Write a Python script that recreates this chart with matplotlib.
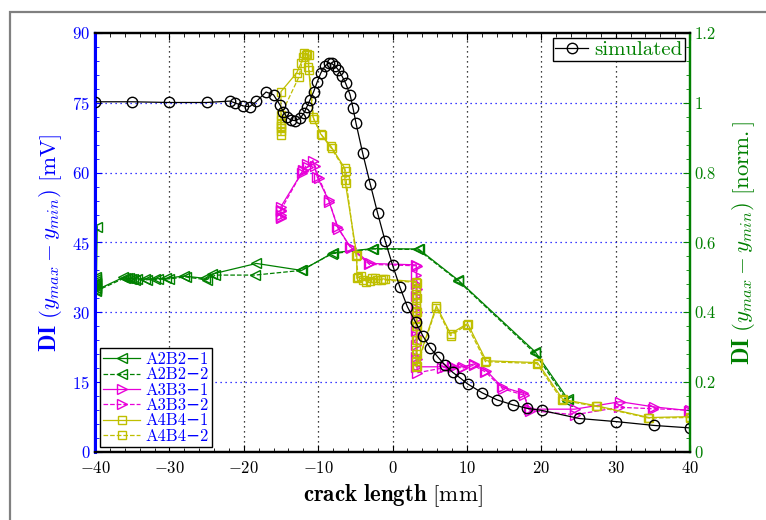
"""
    DI over crack length, measured (A2B2, A3B3, A4B4) vs. simulated
"""

import numpy as np
import matplotlib
matplotlib.use("Agg")
import matplotlib.pyplot as plt
from matplotlib.patches import Rectangle
from matplotlib.ticker import MultipleLocator

plt.rcParams['font.family'] = ['cmr10', 'DejaVu Serif']
plt.rcParams['mathtext.fontset'] = 'cm'
plt.rcParams['axes.formatter.use_mathtext'] = True

# simulated curve, right axis [norm.]
sim_x = [-40, -35, -30, -25, -21.85, -21.2, -20.06, -19.2, -18.3, -17.0, -16.0, -15.1,
         -14.7, -14.2, -13.7, -13.1, -12.4, -11.9, -11.5, -11.1, -10.6, -10.1, -9.65,
         -9.1, -8.6, -8.2, -7.7, -7.3, -6.8, -6.3, -5.7, -5.3, -4.9, -4.0, -3.0, -2.0,
         -1.0, 0, 1, 2, 3.1, 4.1, 5.05, 6.1, 7.1, 8.1, 9.1, 10.1, 12.1, 14.1, 16.2, 18.1,
         20.1, 25.1, 30.1, 35.2, 40]
sim_y = [1.003, 1.003, 1.001, 1.001, 1.005, 1.000, 0.991, 0.989, 1.004, 1.031, 1.023, 0.993,
         0.975, 0.959, 0.951, 0.949, 0.956, 0.971, 0.989, 1.008, 1.032, 1.061, 1.085,
         1.105, 1.113, 1.113, 1.105, 1.095, 1.077, 1.056, 1.023, 0.984, 0.941, 0.855, 0.768, 0.684,
         0.605, 0.536, 0.472, 0.416, 0.372, 0.332, 0.299, 0.272, 0.248, 0.228, 0.212, 0.195, 0.169, 0.149, 0.135, 0.125,
         0.119, 0.096, 0.087, 0.076, 0.069]

# measured, left axis [mV]
a2b2_1_x = [-39.7, -39.8, -39.8, -39.8, -39.8, -39.8, -39.8, -39.8, -39.8, -36.2, -35.7, -35.4,
            -34.9, -34.4, -33.3, -31.9, -30.4, -28.1, -25.2, -24.3, -18.3, -12.2, -8.0, -2.6,
            3.5, 8.85, 19.2, 23.6]
a2b2_1_y = [48.4, 37.6, 37.2, 36.8, 36.4, 36.0, 35.6, 35.2, 34.8, 37.5, 37.3, 37.3,
            37.2, 37.2, 37.2, 37.2, 37.3, 37.8, 37.3, 38.2, 40.5, 39.0, 42.8, 43.7,
            43.6, 36.9, 21.5, 11.3]
a2b2_2_x = [-39.8, -39.8, -39.8, -36.0, -35.2, -34.6, -33.0, -31.5, -30.0, -27.8, -25.0, -23.8,
            -18.5, -12.3, -8.1, -2.7, 3.4, 8.8, 19.1, 23.5]
a2b2_2_y = [36.2, 35.2, 34.6, 37.4, 37.2, 37.0, 37.0, 37.1, 37.2, 37.6, 37.0, 38.0,
            38.0, 39.0, 42.6, 43.6, 43.5, 36.8, 21.3, 11.0]

a3b3_1_x = [-15, -15, -15, -15, -12.2, -12.0, -11.3, -10.7, -10.1, -8.6, -7.4, -5.7, -3.0,
            3.2, 3.2, 3.2, 3.2, 3.2, 3.2, 3.2, 3.2, 3.2, 3.2, 7.0, 8.1, 9.5, 10.9, 12.6, 14.7,
            17.6, 18.3, 24.5, 30.6, 35.1, 39.8]
a3b3_1_y = [50.2, 51.0, 51.8, 52.7, 60.0, 60.6, 61.3, 62.6, 59.0, 54.1, 48.4, 44.1, 40.5,
            40.2, 38.0, 36.0, 33.5, 31.0, 28.5, 26.0, 23.0, 20.5, 18.3, 18.3, 18.3, 18.3, 18.9, 17.5, 14.0,
            12.6, 9.2, 9.2, 10.8, 9.7, 8.9]
a3b3_2_x = [-15, -15, -12.1, -11.5, -10.4, -9.9, -8.5, -7.3, -5.6, -3.1, 3.3, 3.3, 3.3, 3.3,
            3.3, 3.3, 6.6, 8.0, 9.4, 10.9, 12.5, 14.8, 17.7, 18.5, 24.5, 30.5, 35.0, 40.0]
a3b3_2_y = [50.5, 52.0, 60.3, 61.8, 61.5, 58.8, 53.8, 48.0, 43.8, 40.3, 40.0, 35.0, 30.0, 25.0,
            20.0, 17.0, 18.0, 18.5, 18.0, 18.6, 17.2, 13.6, 12.2, 8.9, 8.0, 9.6, 9.3, 9.0]

a4b4_1_x = [-15, -15, -15, -15, -15, -12.9, -12.3, -11.9, -11.6, -11.2, -11.3, -10.7, -9.65,
            -8.3, -6.4, -6.4, -4.8, -4.8, -4.2, -3.5, -2.8, -2.1, -1.25, -1.0, 3.2, 3.2, 3.2,
            3.2, 3.2, 3.2, 3.2, 3.2, 3.2, 3.2, 3.2, 3.2, 3.2, 5.9, 7.8, 10.1, 12.6, 19.5, 22.9,
            27.5, 34.5, 40]
a4b4_1_y = [68.1, 69.5, 70.5, 71.3, 77.4, 81.4, 83.5, 85.6, 85.3, 85.3, 82.8, 72.0, 68.3,
            65.7, 60.9, 58.4, 42.3, 37.3, 37.8, 36.6, 37.4, 36.9, 37.2, 37.1, 36.6, 35.3, 34.0,
            33.0, 32.0, 31.0, 30.0, 28.5, 27.0, 24.0, 22.0, 19.5, 18.3, 31.4, 25.4, 27.6, 19.6, 19.2, 11.3,
            9.9, 7.4, 7.6]
a4b4_2_x = [-15, -15, -15, -12.6, -12.0, -11.5, -11.2, -10.6, -9.5, -8.2, -6.3, -6.2, -4.9,
            -4.6, -3.9, -3.0, -2.3, -1.5, 3.3, 3.3, 3.3, 3.3, 3.3, 3.3, 3.3, 5.9, 7.8, 10.0,
            12.5, 19.4, 22.8, 27.4, 34.4, 40]
a4b4_2_y = [69.0, 70.0, 72.4, 80.5, 84.8, 85.5, 82.0, 71.5, 68.0, 65.2, 60.3, 57.8, 42.0,
            37.5, 37.0, 36.8, 37.3, 37.0, 36.4, 33.0, 30.0, 27.0, 24.0, 21.0, 18.5, 31.0, 25.0, 27.3,
            19.4, 19.0, 11.1, 9.8, 7.3, 7.4]

green = '#008000'
magenta = '#E800D8'
olive = '#BFBF00'
blue = '#0000FF'
fontsize = 12
labelsize = 16.5

fig = plt.figure(figsize=(7.66, 5.2), dpi=100)
ax1 = fig.add_axes([95/766, 1-452/520, 595/766, 419/520])
ax2 = ax1.twinx()

# grey frame of the screenshot
fig.patches.append(Rectangle((10/766, -0.1), 1.2, 1 - 12/520 + 0.1, transform=fig.transFigure,
                             fill=False, edgecolor='#808080', lw=1.6))

mk = dict(mfc='none', mew=1.0, lw=0.9)
ax1.plot(a2b2_1_x, a2b2_1_y, '-', marker='<', ms=7, color=green, label='A2B2\u22121', **mk)
ax1.plot(a2b2_2_x, a2b2_2_y, '--', marker='<', ms=7, color=green, label='A2B2\u22122', **mk)
ax1.plot(a3b3_1_x, a3b3_1_y, '-', marker='>', ms=7, color=magenta, label='A3B3\u22121', **mk)
ax1.plot(a3b3_2_x, a3b3_2_y, '--', marker='>', ms=7, color=magenta, label='A3B3\u22122', **mk)
ax1.plot(a4b4_1_x, a4b4_1_y, '-', marker='s', ms=6, color=olive, label='A4B4\u22121', **mk)
ax1.plot(a4b4_2_x, a4b4_2_y, '--', marker='s', ms=6, color=olive, label='A4B4\u22122', **mk)

ax2.plot(sim_x, sim_y, '-', marker='o', ms=7.5, color='black', label='simulated', **mk)

ax1.set_xlim(-40, 40)
ax1.set_ylim(0, 90)
ax2.set_ylim(0, 1.2)
ax1.xaxis.set_major_locator(MultipleLocator(10))
ax1.xaxis.set_minor_locator(MultipleLocator(2))
ax1.yaxis.set_major_locator(MultipleLocator(15))
ax1.yaxis.set_minor_locator(MultipleLocator(3))
ax2.yaxis.set_major_locator(MultipleLocator(0.2))
ax2.yaxis.set_minor_locator(MultipleLocator(0.04))
ax2.yaxis.set_major_formatter(plt.FuncFormatter(lambda v, p: f'{round(v, 1):g}'))

for v in range(-30, 40, 10):
    ax1.axvline(v, color='black', ls=(0, (1, 3)), lw=0.9, zorder=0)
for v in range(15, 90, 15):
    ax1.axhline(v, color=blue, ls=(0, (1, 3)), lw=0.9, zorder=0)

ax1.tick_params(axis='x', which='both', direction='in', top=True, labelsize=fontsize,
                colors='black', pad=6)
ax1.tick_params(axis='x', which='major', length=5)
ax1.tick_params(axis='x', which='minor', length=3)
ax1.tick_params(axis='y', which='both', direction='in', colors=blue, labelsize=fontsize)
ax1.tick_params(axis='y', which='major', length=5)
ax1.tick_params(axis='y', which='minor', length=3)
ax2.tick_params(axis='y', which='both', direction='in', colors=green, labelsize=fontsize)
ax2.tick_params(axis='y', which='major', length=5)
ax2.tick_params(axis='y', which='minor', length=3)
ax2.tick_params(axis='x', which='both', top=False, bottom=False)

for ax in (ax1, ax2):
    ax.spines['left'].set_color(blue)
    ax.spines['right'].set_color(green)
    for s in ax.spines.values():
        s.set_linewidth(1.6)
ax1.spines['left'].set_linewidth(2.2)

ax1.set_xlabel(r'$\mathbf{crack\ length}\ [\mathrm{mm}]$', fontsize=labelsize, labelpad=4)
ax1.set_ylabel(r'$\mathbf{DI}\ (y_{max}-y_{min})\ [\mathrm{mV}]$', fontsize=labelsize,
               color=blue, labelpad=6)
ax2.set_ylabel(r'$\mathbf{DI}\ (y_{max}-y_{min})\ [\mathrm{norm.}]$', fontsize=labelsize,
               color=green, labelpad=10)

leg1 = ax1.legend(loc='lower left', fontsize=fontsize, handlelength=2.2, handletextpad=0.3,
                  labelspacing=0.0, borderpad=0.2, borderaxespad=0.3, fancybox=False,
                  edgecolor='black', framealpha=1, labelcolor=blue)
leg1.get_frame().set_linewidth(1.0)
leg2 = ax2.legend(loc='upper right', fontsize=15, handlelength=1.6, handletextpad=0.3,
                  borderpad=0.1, borderaxespad=0.25, fancybox=False, edgecolor='black',
                  framealpha=1, labelcolor=green)
leg2.get_frame().set_linewidth(1.0)

fig.savefig('out.png', dpi=100)
